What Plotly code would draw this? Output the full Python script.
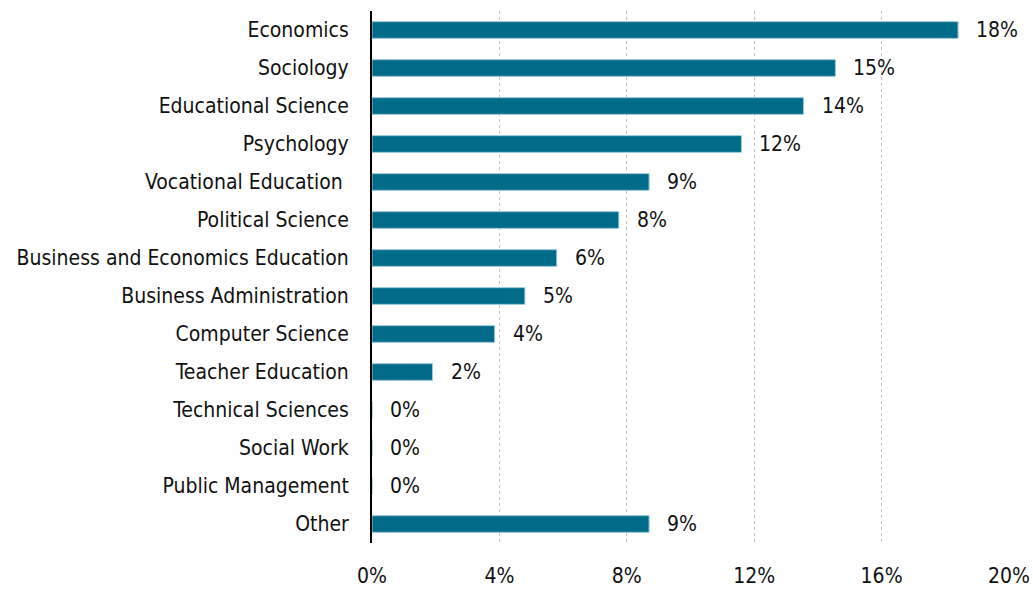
import plotly.graph_objects as go

# Share of respondents by field of study (percent)
fields = [
    "Economics",
    "Sociology",
    "Educational Science",
    "Psychology",
    "Vocational Education ",
    "Political Science",
    "Business and Economics Education",
    "Business Administration",
    "Computer Science",
    "Teacher Education",
    "Technical Sciences",
    "Social Work",
    "Public Management",
    "Other",
]
shares = [18.4, 14.55, 13.55, 11.6, 8.7, 7.75, 5.8, 4.8, 3.85, 1.9, 0.0, 0.0, 0.0, 8.7]

x_ticks = [0, 4, 8, 12, 16, 20]
x_tick_labels = ["0%", "4%", "8%", "12%", "16%", "20%"]

FONT = "DejaVu Sans Condensed, Liberation Sans, sans-serif"
FONT_SIZE = 21
TEXT_COLOR = "#111111"
BAR_COLOR = "#006c89"

fig = go.Figure()
fig.add_trace(
    go.Bar(
        x=shares,
        y=fields,
        orientation="h",
        marker=dict(color=BAR_COLOR, line=dict(color="#9ccbdc", width=1)),
        width=0.44,
        hoverinfo="skip",
    )
)

# Value labels to the right of each bar
for f, v in zip(fields, shares):
    fig.add_annotation(
        x=v,
        y=f,
        text=f"{v:.0f}%",
        showarrow=False,
        xanchor="left",
        yanchor="middle",
        xshift=16,
        font=dict(family=FONT, size=FONT_SIZE, color=TEXT_COLOR),
    )

fig.update_layout(
    width=1033,
    height=590,
    margin=dict(l=372, r=24, t=11, b=47),
    paper_bgcolor="white",
    plot_bgcolor="white",
    showlegend=False,
    font=dict(family=FONT, size=FONT_SIZE, color=TEXT_COLOR),
    xaxis=dict(
        range=[0, 20],
        tickvals=x_ticks,
        ticktext=x_tick_labels,
        showgrid=True,
        gridcolor="#c4c4c4",
        gridwidth=1,
        griddash="dot",
        zeroline=False,
        showline=False,
        ticks="outside",
        ticklen=14,
        tickcolor="rgba(0,0,0,0)",
        tickfont=dict(family=FONT, size=FONT_SIZE, color=TEXT_COLOR),
        automargin=False,
        fixedrange=True,
    ),
    yaxis=dict(
        categoryorder="array",
        categoryarray=fields[::-1],
        autorange=False,
        range=[-0.5, len(fields) - 0.5],
        showgrid=False,
        zeroline=False,
        showline=True,
        linecolor="#000000",
        linewidth=2,
        ticks="outside",
        ticklen=17,
        tickcolor="rgba(0,0,0,0)",
        tickfont=dict(family=FONT, size=FONT_SIZE, color=TEXT_COLOR),
        automargin=False,
        fixedrange=True,
    ),
)

fig.write_html("out.html")
